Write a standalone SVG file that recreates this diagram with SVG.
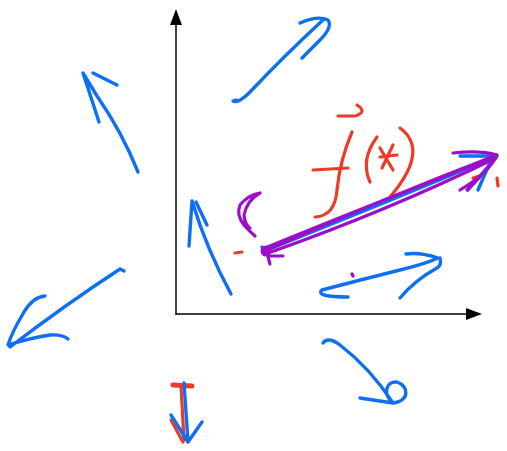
<svg xmlns="http://www.w3.org/2000/svg" width="507" height="451" viewBox="0 0 507 451">
<style>
.ax{stroke:#000;stroke-width:1.5;fill:none}
.b{stroke:#0f6ff2;stroke-width:3.4;fill:none;stroke-linecap:round;stroke-linejoin:round}
.r{stroke:#ec3b26;stroke-width:3.2;fill:none;stroke-linecap:round;stroke-linejoin:round}
.p{stroke:#9b0fc9;stroke-width:3.2;fill:none;stroke-linecap:round;stroke-linejoin:round}
</style>
<rect width="507" height="451" fill="#fff"/>
<g id="axes">
<line class="ax" x1="176" y1="315" x2="176" y2="24"/>
<polygon points="176,9 170,25 182,25" fill="#000"/>
<line class="ax" x1="176" y1="314" x2="467" y2="314"/>
<polygon points="482,314 466,308 466,320" fill="#000"/>
</g>
<g id="blue-arrows">
<path class="b" d="M236,100 L233,101 Q238,104 250,92 Q285,55 323,20 M300,23 Q318,15 328,20 Q333,27 320,40 L302,58"/>
<path class="b" d="M138,172 Q122,132 97,96 L83,73 L99,122 M93,73 L117,85"/>
<path class="b" d="M124,271 L120,269 Q65,305 10,347 M45,296 Q33,297 24,312 Q12,332 8,345 Q30,338 50,335 Q62,334 68,339"/>
<path class="b" d="M231,294 Q207,250 192,201 L189,246 M196,202 L207,225"/>
<path class="b" d="M348,297 Q315,297 322,290 Q360,280 400,270 Q425,264 438,258 Q420,252 406,254 M440,258 Q442,265 437,268 Q415,280 400,298"/>
<path class="b" d="M323,343 Q328,336 340,345 Q370,368 393,403 M360,398 L393,403 C383,395 385,381 397,382 C409,386 410,401 393,403"/>
</g>
<g id="down-arrow">
<path class="r" d="M173,385 L192,386" style="stroke-width:5"/>
<path class="r" d="M181,386 L184,440 M171,420 L183,442"/>
<path class="b" d="M184,383 L188,442 M171,415 L188,442 L202,422"/>
</g>
<g id="fx">
<path class="r" d="M357,105 Q368,112 355,116 L338,116"/>
<path class="r" d="M352,132 Q340,160 337,190 Q335,216 315,217 M313,170 L348,168"/>
<path class="r" d="M377,137 Q360,160 370,182"/>
<path class="r" d="M380,148 L393,170 M393,145 L382,168 M380,157 L397,155"/>
<path class="r" d="M400,128 Q430,150 390,197"/>
<path class="r" d="M235,253 L242,252 M473,178 L483,175 M497,178 L498,186"/>
</g>
<g id="main-vector">
<path class="b" d="M262,247 L267,250 Q380,205 497,156 M460,156 L497,156 L468,190 M491,160 L478,190"/>
<path class="p" d="M267,250 Q380,200 497,155 M268,253 Q385,212 496,158 M265,248 Q370,205 494,157 M453,153 Q480,150 497,155 Q490,172 460,190 M496,158 Q480,178 467,190"/>
<circle cx="266" cy="251" r="5.5" fill="#9b0fc9"/>
<path class="p" d="M268,257 L270,264 M270,256 L283,256"/>
<path class="p" d="M260,193 Q248,195 240,205 Q236,215 244,225 Q250,232 255,236 M260,193 Q247,200 244,215 Q245,225 250,228"/>
<path class="p" d="M352,274 L353,276"/>
</g>
</svg>
